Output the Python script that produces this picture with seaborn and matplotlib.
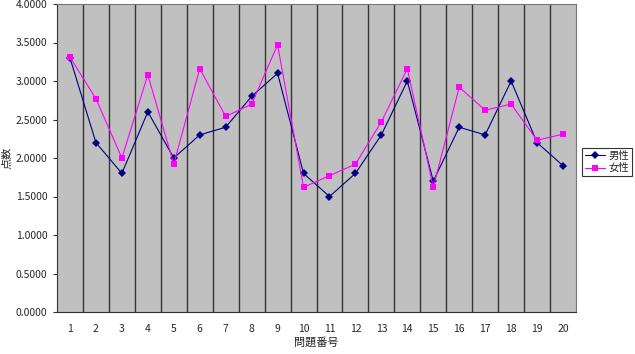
import matplotlib
matplotlib.use("Agg")
import matplotlib.pyplot as plt
import seaborn as sns
import pandas as pd
import numpy as np
from matplotlib.lines import Line2D

questions = list(range(1, 21))
male = [3.30, 2.20, 1.80, 2.60, 2.00, 2.30, 2.40, 2.80, 3.10, 1.80,
        1.50, 1.80, 2.30, 3.00, 1.70, 2.40, 2.30, 3.00, 2.20, 1.90]
female = [3.31, 2.77, 2.00, 3.08, 1.92, 3.16, 2.54, 2.70, 3.47, 1.62,
          1.77, 1.92, 2.47, 3.16, 1.62, 2.92, 2.62, 2.70, 2.23, 2.31]
series_names = ["男性", "女性"]
y_ticks = [0.0, 0.5, 1.0, 1.5, 2.0, 2.5, 3.0, 3.5, 4.0]

df = pd.DataFrame({
    "問題番号": questions * 2,
    "点数": male + female,
    "系列": [series_names[0]] * len(male) + [series_names[1]] * len(female),
})

sns.set_style("white")
plt.rcParams['font.family'] = ['Noto Sans CJK JP', 'DejaVu Sans']

fig = plt.figure(figsize=(6.35, 3.54), dpi=100)
ax = fig.add_axes([57/635, 1 - 312/354, (576 - 57)/635, (312 - 4)/354])
ax.set_facecolor("#C0C0C0")

sns.lineplot(data=df, x="問題番号", y="点数", hue="系列", style="系列",
             palette={"男性": "#000080", "女性": "#FF00FF"},
             markers={"男性": "D", "女性": "s"}, dashes=False,
             markersize=4, markeredgewidth=0, linewidth=0.8, ax=ax,
             legend=False, zorder=3)

ax.set_xlim(0.5, 20.5)
ax.set_ylim(0, 4.0)
ax.set_xticks(questions)
ax.set_xticklabels([str(q) for q in questions], fontsize=7.5)
ax.set_xticks(np.arange(1.5, 20.5, 1.0), minor=True)
ax.grid(which="minor", axis="x", color="#333333", linewidth=1.0)
ax.grid(which="major", visible=False)
ax.set_yticks(y_ticks)
ax.set_yticklabels([f"{v:.4f}" for v in y_ticks], fontsize=7.5)
ax.tick_params(axis="x", which="both", length=0, pad=9)
ax.tick_params(axis="y", which="major", length=3, width=0.8, color="#333333",
               left=True, pad=4)
for sp in ax.spines.values():
    sp.set_color("#777777")
    sp.set_linewidth(0.8)
ax.spines["left"].set_color("#333333")
ax.spines["bottom"].set_color("#333333")

ax.set_xlabel("問題番号", fontsize=8, labelpad=2)
ax.set_ylabel("点数", fontsize=8, labelpad=2)

handles = [Line2D([], [], color="#000080", marker="D", markersize=4, markeredgewidth=0, linewidth=0.8),
           Line2D([], [], color="#FF00FF", marker="s", markersize=4, markeredgewidth=0, linewidth=0.8)]
leg = fig.legend(handles, series_names, loc="center", bbox_to_anchor=(607/635, 1 - 162/354),
                 fontsize=7.5, frameon=True, fancybox=False, handlelength=2.0,
                 handletextpad=0.3, borderpad=0.3, labelspacing=0.2, borderaxespad=0)
leg.get_frame().set_edgecolor("#000000")
leg.get_frame().set_linewidth(0.8)

fig.savefig("out.png", dpi=100)
